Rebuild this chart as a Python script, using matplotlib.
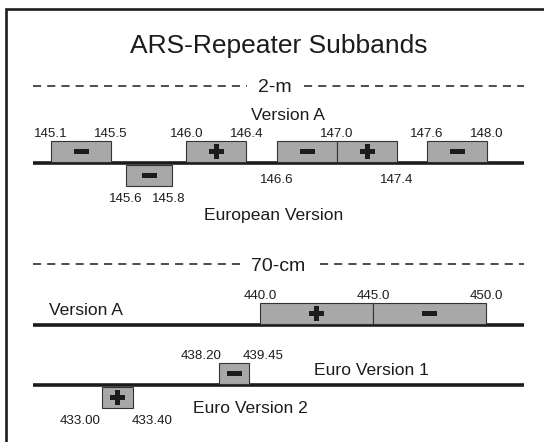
import matplotlib.pyplot as plt
from matplotlib.patches import Rectangle
from matplotlib.path import Path

plt.rcParams['font.family'] = ['Liberation Sans', 'DejaVu Sans']

# 2-m band, version A (above the line) and European version (below)
va2_lo = [145.1, 146.0, 146.6, 147.0, 147.6]
va2_hi = [145.5, 146.4, 147.0, 147.4, 148.0]
va2_sign = ['-', '+', '-', '+', '-']
va2_labels_above = [145.1, 145.5, 146.0, 146.4, 147.0, 147.6, 148.0]
va2_labels_below = [146.6, 147.4]
eu2_lo = [145.6]
eu2_hi = [145.8]
eu2_sign = ['-']

# 70-cm band
va70_lo = [440.0, 445.0]
va70_hi = [445.0, 450.0]
va70_sign = ['+', '-']
eu70a_lo = [438.20]
eu70a_hi = [439.45]
eu70a_sign = ['-']
eu70b_lo = [433.00]
eu70b_hi = [433.40]
eu70b_sign = ['+']

W, H = 544, 442
INK = '#1c1c1c'
BOX = '#a8a8a8'

fig = plt.figure(figsize=(W / 100, H / 100), dpi=100)
ax = fig.add_axes([0, 0, 1, 1])
ax.set_xlim(0, W)
ax.set_ylim(H, 0)
ax.axis('off')


def band_axes(f_a, px_a, f_b, px_b):
    scale = (px_b - px_a) / (f_b - f_a)
    b = fig.add_axes([0, 0, 1, 1])
    left = f_a - px_a / scale
    b.set_xlim(left, left + W / scale)
    b.set_ylim(H, 0)
    b.axis('off')
    b.patch.set_alpha(0)
    return b, scale


ax2, s2 = band_axes(145.1, 51, 148.0, 487)
ax70, s70 = band_axes(440.0, 260, 450.0, 486)

minus_marker = Path([(-1.5, -0.5), (1.5, -0.5), (1.5, 0.5), (-1.5, 0.5), (-1.5, -0.5)],
                    [Path.MOVETO, Path.LINETO, Path.LINETO, Path.LINETO, Path.CLOSEPOLY])


def draw_boxes(b, scale, lo, hi, signs, y_top, y_bot, min_px=0):
    rights = []
    for l, h, sg in zip(lo, hi, signs):
        w = max(h - l, min_px / scale)
        b.add_patch(Rectangle((l, y_top), w, y_bot - y_top, facecolor=BOX,
                              edgecolor='#333333', linewidth=0.8, zorder=2))
        marker = 'P' if sg == '+' else minus_marker
        b.plot([l + w / 2], [(y_top + y_bot) / 2], marker=marker, markersize=10.8,
               color=INK, markeredgewidth=0, zorder=3)
        rights.append(l + w)
    return rights


def num(b, x, y, txt, ha='center'):
    b.text(x, y, txt, fontsize=9.6, color=INK, ha=ha, va='baseline')


def dashed(y, x_gap0, x_gap1):
    for xa, xb in [(33, x_gap0), (x_gap1, 524)]:
        ax.plot([xa, xb], [y, y], color=INK, lw=1.1, dashes=(5.3, 4.0))


def big(x, y, txt, ha='center', size=12.6):
    ax.text(x, y, txt, fontsize=size, color=INK, ha=ha, va='baseline')


# frame and title
ax.plot([6, 6, W + 5], [H + 5, 9, 9], color=INK, lw=1.9, solid_joinstyle='miter')
ax.text(279, 53, 'ARS-Repeater Subbands', fontsize=19, color=INK, ha='center', va='baseline')

# ---- 2-m ----
dashed(86, 247, 304)
big(275, 92, '2-m', size=14)
big(288, 120, 'Version A')
ax.plot([33, 524], [163, 163], color=INK, lw=2.6, solid_capstyle='butt')
draw_boxes(ax2, s2, va2_lo, va2_hi, va2_sign, 141, 161.5)
for f in va2_labels_above:
    num(ax2, f, 137, f'{f:.1f}')
for f in va2_labels_below:
    num(ax2, f, 183, f'{f:.1f}')
r = draw_boxes(ax2, s2, eu2_lo, eu2_hi, eu2_sign, 164.5, 186, min_px=46)
num(ax2, eu2_lo[0], 202, f'{eu2_lo[0]:.1f}')
num(ax2, r[0] - 3 / s2, 202, f'{eu2_hi[0]:.1f}')
big(274, 220, 'European Version')

# ---- 70-cm ----
dashed(264, 241, 320)
big(278, 271, '70-cm', size=14)
big(49, 315, 'Version A', ha='left')
ax.plot([33, 524], [325, 325], color=INK, lw=2.6, solid_capstyle='butt')
draw_boxes(ax70, s70, va70_lo, va70_hi, va70_sign, 303, 323.5)
for f in sorted(set(va70_lo + va70_hi)):
    num(ax70, f, 299, f'{f:.1f}')

ax.plot([33, 524], [385, 385], color=INK, lw=2.6, solid_capstyle='butt')
r = draw_boxes(ax70, s70, eu70a_lo, eu70a_hi, eu70a_sign, 363, 383.5, min_px=30)
num(ax70, eu70a_lo[0] + 2 / s70, 359, f'{eu70a_lo[0]:.2f}', ha='right')
num(ax70, r[0] - 7 / s70, 359, f'{eu70a_hi[0]:.2f}', ha='left')
big(314, 375, 'Euro Version 1', ha='left')

r = draw_boxes(ax70, s70, eu70b_lo, eu70b_hi, eu70b_sign, 386.5, 408, min_px=31)
num(ax70, eu70b_lo[0] - 1 / s70, 424, f'{eu70b_lo[0]:.2f}', ha='right')
num(ax70, r[0] - 1 / s70, 424, f'{eu70b_hi[0]:.2f}', ha='left')
big(193, 413, 'Euro Version 2', ha='left')

fig.savefig('out.png', dpi=100)
